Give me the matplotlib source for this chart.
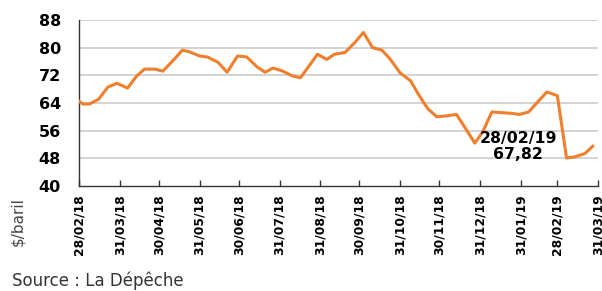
import matplotlib
matplotlib.use("Agg")
import matplotlib.pyplot as plt
import pandas as pd

plt.rcParams['font.family'] = ['DejaVu Sans']

dates = ["2018-02-28", "2018-03-03", "2018-03-08", "2018-03-15", "2018-03-22", "2018-03-29",
         "2018-04-06", "2018-04-13", "2018-04-19", "2018-04-27", "2018-05-03", "2018-05-11",
         "2018-05-18", "2018-05-24", "2018-05-31", "2018-06-06", "2018-06-14", "2018-06-21",
         "2018-06-29", "2018-07-06", "2018-07-14", "2018-07-20", "2018-07-26", "2018-08-02",
         "2018-08-10", "2018-08-16", "2018-08-29", "2018-09-05", "2018-09-11", "2018-09-19",
         "2018-09-27", "2018-10-03", "2018-10-10", "2018-10-17", "2018-10-23", "2018-10-31",
         "2018-11-08", "2018-11-14", "2018-11-21", "2018-11-28", "2018-12-06", "2018-12-13",
         "2018-12-20", "2018-12-27", "2019-01-02", "2019-01-09", "2019-01-17", "2019-01-24",
         "2019-01-30", "2019-02-06", "2019-02-13", "2019-02-20", "2019-02-28", "2019-03-07",
         "2019-03-13", "2019-03-21", "2019-03-27"]
prices = [64.5, 63.7, 63.7, 65.1, 68.6, 69.7,
          68.3, 71.8, 73.8, 73.8, 73.2, 76.4,
          79.3, 78.7, 77.6, 77.3, 75.8, 72.9,
          77.6, 77.3, 74.4, 72.9, 74.1, 73.3,
          71.8, 71.3, 78.1, 76.6, 78.1, 78.6,
          81.7, 84.4, 80.0, 79.3, 76.9, 72.7,
          70.4, 66.5, 62.4, 60.0, 60.3, 60.7,
          56.6, 52.4, 55.6, 61.4, 61.2, 61.0,
          60.7, 61.4, 64.3, 67.2, 66.1, 48.1,
          48.4, 49.4, 51.5]

tick_dates = ["2018-02-28", "2018-03-31", "2018-04-30", "2018-05-31", "2018-06-30",
              "2018-07-31", "2018-08-31", "2018-09-30", "2018-10-31", "2018-11-30",
              "2018-12-31", "2019-01-31", "2019-02-28", "2019-03-31"]
tick_labels = ["28/02/18", "31/03/18", "30/04/18", "31/05/18", "30/06/18", "31/07/18",
               "31/08/18", "30/09/18", "31/10/18", "30/11/18", "31/12/18", "31/01/19",
               "28/02/19", "31/03/19"]
y_ticks = [40, 48, 56, 64, 72, 80, 88]

annot_text = "28/02/19\n67,82"
annot_pos = ("2019-01-29", 51.4)

x = pd.to_datetime(dates)
xt = pd.to_datetime(tick_dates)

fig = plt.figure(figsize=(6.02, 2.91), dpi=100)
ax = fig.add_axes([79/602, 1 - 186/291, (598 - 79)/602, (186 - 20)/291])

for yv in y_ticks[1:]:
    ax.axhline(yv, color='#cccccc', lw=1.2, zorder=1)

ax.plot(x, prices, color='#F07F2D', lw=2.2, zorder=3)

ax.set_xlim(xt[0], xt[-1])
ax.set_ylim(40, 88)
ax.set_yticks(y_ticks)
ax.set_yticklabels([str(v) for v in y_ticks], fontsize=11.5, fontweight='bold')
ax.set_xticks(xt)
ax.set_xticklabels(tick_labels, rotation=90, fontsize=10, fontweight='bold')
ax.tick_params(axis='x', direction='in', length=4, width=1, pad=6, color='#333333')
ax.tick_params(axis='y', direction='in', length=0, pad=13)

for s in ['top', 'right']:
    ax.spines[s].set_visible(False)
for s in ['left', 'bottom']:
    ax.spines[s].set_color('#333333')
    ax.spines[s].set_linewidth(1.0)

ann = ax.text(pd.Timestamp(annot_pos[0]), annot_pos[1], annot_text, ha='center', va='center',
              fontsize=11.3, fontweight='bold', linespacing=1.1, zorder=4)

ylab = fig.text(18/602, 1 - 222/291, "$/baril", rotation=90, ha='center', va='center',
                fontsize=11, color='#444444')
src = fig.text(12/602, 1 - 281/291, "Source : La Dépêche", ha='left', va='center',
               fontsize=12, color='#333333')

# fit x tick label length to the reference (about 61 px along the text)
fig.canvas.draw()
r = fig.canvas.get_renderer()
lab0 = ax.get_xticklabels()[0]
L = lab0.get_window_extent(r).height
new_size = 10 * 61.0 / L
for t in ax.get_xticklabels():
    t.set_fontsize(new_size)

fig.savefig("out.png", dpi=100)
